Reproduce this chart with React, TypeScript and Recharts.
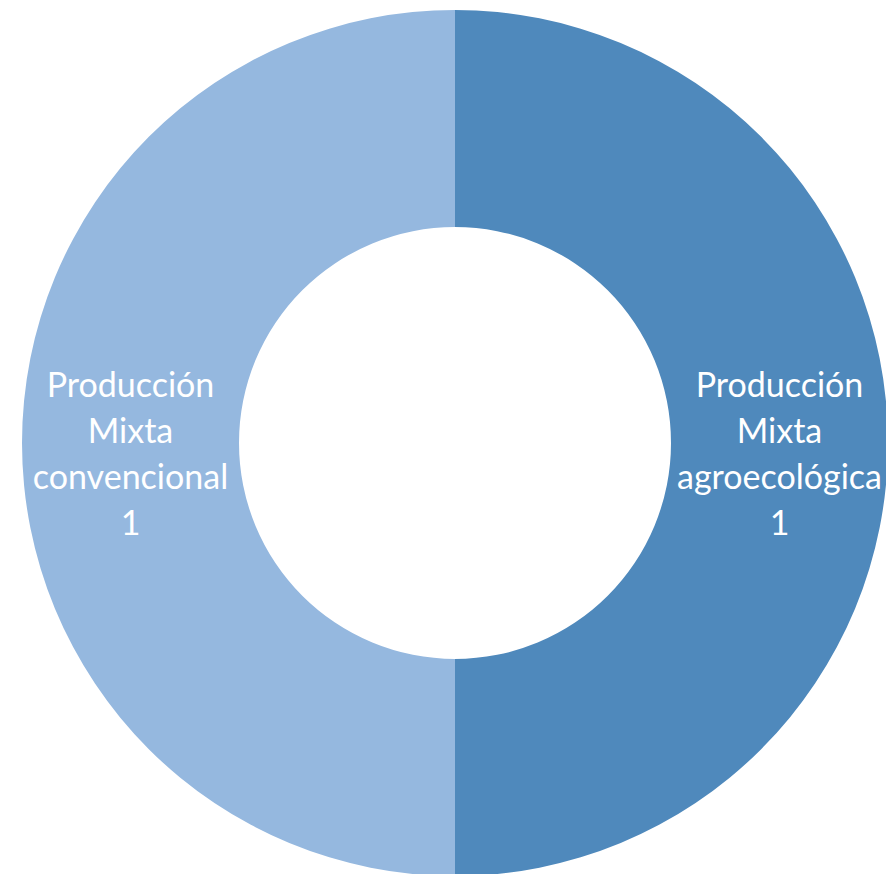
import React from "react";
import { PieChart, Pie, Cell } from "recharts";

const categories = ["Producción Mixta agroecológica", "Producción Mixta convencional"];
const labelLines = [
  ["Producción", "Mixta", "agroecológica"],
  ["Producción", "Mixta", "convencional"],
];
const values = [1, 1];
const colors = ["#4F89BC", "#95B8DF"];

const data = categories.map((name, i) => ({ name, value: values[i] }));

const RAD = Math.PI / 180;

const renderLabel = (props: any) => {
  const { cx, cy, midAngle, innerRadius, outerRadius, index, value } = props;
  const r = (innerRadius + outerRadius) / 2;
  const x = cx + r * Math.cos(-midAngle * RAD);
  const y = cy + r * Math.sin(-midAngle * RAD);
  const lines = [...labelLines[index], String(value)];
  return (
    <text
      x={x}
      y={y - 46}
      fill="#FFFFFF"
      textAnchor="middle"
      fontFamily="Lato"
      fontSize={34}
    >
      {lines.map((l, i) => (
        <tspan key={i} x={x} dy={i === 0 ? 0 : 46}>
          {l}
        </tspan>
      ))}
    </text>
  );
};

export default function App() {
  return (
    <div style={{ position: "absolute", left: 0, top: 0, width: 886, height: 874, background: "#FFFFFF" }}>
      <PieChart width={886} height={874} margin={{ top: 0, right: 0, bottom: 0, left: 0 }}>
        <Pie
          data={data}
          dataKey="value"
          nameKey="name"
          cx={455}
          cy={443}
          innerRadius={216}
          outerRadius={433}
          startAngle={90}
          endAngle={-270}
          stroke="none"
          labelLine={false}
          label={renderLabel}
          isAnimationActive={false}
        >
          {data.map((d, i) => (
            <Cell key={d.name} fill={colors[i]} />
          ))}
        </Pie>
      </PieChart>
    </div>
  );
}
